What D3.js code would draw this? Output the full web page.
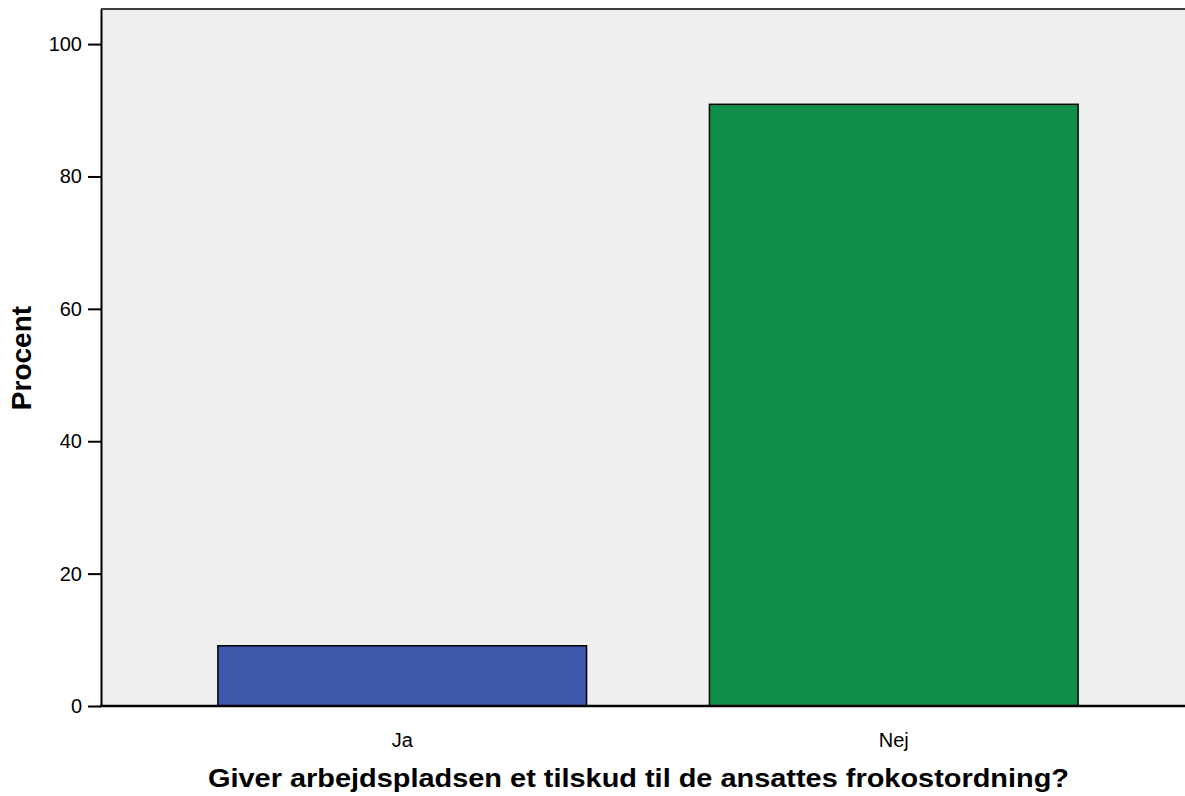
<!DOCTYPE html>
<html>
<head>
<meta charset="utf-8">
<script src="https://cdn.jsdelivr.net/npm/d3@7"></script>
<style>
  body { margin: 0; background: #fff; }
  text { font-family: "Liberation Sans", Arial, sans-serif; }
</style>
</head>
<body>
<script>
var categories = ['Ja', 'Nej']
var values = [9.1, 90.9]
var colors = ['#3e58ac', '#108f4a']
var yTicks = [0, 20, 40, 60, 80, 100]

var width = 1185
var height = 796
var margin = {left: 101, right: 0, top: 9, bottom: 90}

var svg = d3.select('body').append('svg').attr('width', width).attr('height', height)

var y = d3.scaleLinear()
  .domain([0, 105.3])
  .range([height - margin.bottom, margin.top])

// bands reach a bit past the plot on both sides, like the original
var x = d3.scaleBand()
  .domain(categories)
  .range([95, 1201])
  .paddingInner(0.25)
  .paddingOuter(0.25)

// plot background
svg.append('rect')
  .attr('x', margin.left).attr('y', margin.top)
  .attr('width', width - margin.left).attr('height', y(0) - margin.top)
  .attr('fill', '#efefef')

// top border
svg.append('line')
  .attr('x1', margin.left).attr('x2', width)
  .attr('y1', margin.top).attr('y2', margin.top)
  .attr('stroke', '#000').attr('stroke-width', 1.5)

svg.selectAll('rect.bar')
  .data(values)
  .enter().append('rect')
  .attr('class', 'bar')
  .attr('x', (d, i) => x(categories[i]))
  .attr('width', x.bandwidth())
  .attr('y', d => y(d))
  .attr('height', d => y(0) - y(d))
  .attr('fill', (d, i) => colors[i])
  .attr('stroke', '#000')
  .attr('stroke-width', 1.5)

var yAxis = d3.axisLeft(y)
  .tickValues(yTicks)
  .tickSize(13)
  .tickPadding(6)
  .tickSizeOuter(0)

var gy = svg.append('g')
  .attr('transform', `translate(${margin.left},0)`)
  .call(yAxis)
gy.select('.domain').attr('stroke', '#000').attr('stroke-width', 2)
gy.selectAll('.tick line').attr('stroke', '#000').attr('stroke-width', 2)
gy.selectAll('.tick text').attr('font-size', 20).attr('fill', '#000')
  .attr('font-family', '"Liberation Sans", Arial, sans-serif')

var xAxis = d3.axisBottom(x).tickSize(0).tickPadding(27)

var gx = svg.append('g')
  .attr('transform', `translate(0,${y(0)})`)
  .call(xAxis)
gx.select('.domain').remove()
gx.selectAll('.tick text').attr('font-size', 20).attr('fill', '#000')
  .attr('font-family', '"Liberation Sans", Arial, sans-serif')

svg.append('line')
  .attr('x1', margin.left - 1).attr('x2', width)
  .attr('y1', y(0)).attr('y2', y(0))
  .attr('stroke', '#000').attr('stroke-width', 2.5)

// title is a bit wider than its height suggests, so stretch it to width
svg.append('text')
  .attr('x', 208).attr('y', 787)
  .attr('font-size', 26).attr('font-weight', 'bold')
  .attr('textLength', 861).attr('lengthAdjust', 'spacingAndGlyphs')
  .text('Giver arbejdspladsen et tilskud til de ansattes frokostordning?')

svg.append('text')
  .attr('transform', 'translate(31,358) rotate(-90)')
  .attr('text-anchor', 'middle')
  .attr('font-size', 28).attr('font-weight', 'bold')
  .text('Procent')
</script>
</body>
</html>
